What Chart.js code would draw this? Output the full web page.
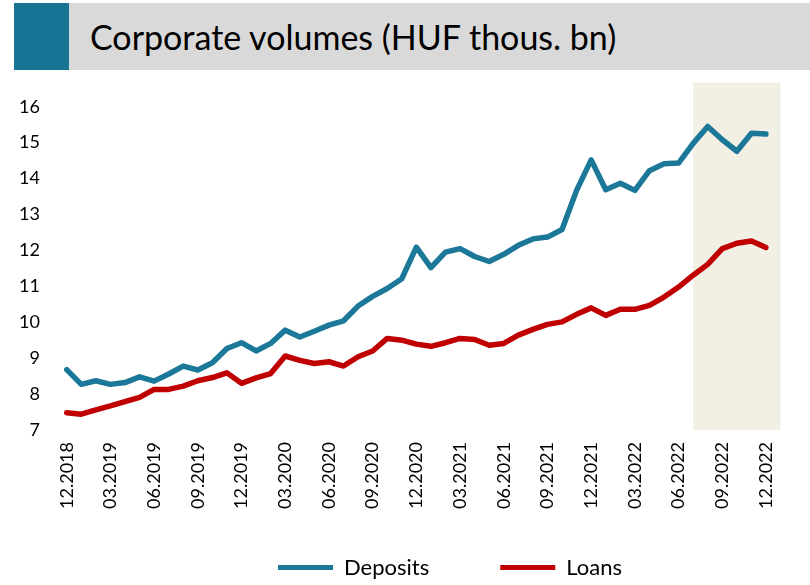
<!DOCTYPE html>
<html><head><meta charset="utf-8">
<script src="https://cdn.jsdelivr.net/npm/chart.js@4"></script>
<style>
html,body{margin:0;padding:0;background:#fff;}
#wrap{position:relative;width:810px;height:585px;overflow:hidden;}
#c{position:absolute;left:0;top:0;}
#bar{position:absolute;left:14px;top:3px;width:796px;height:67px;background:#D9D9D9;}
#sq{position:absolute;left:14px;top:3px;width:55px;height:67px;background:#187596;}
#title{position:absolute;left:90px;top:3px;height:67px;line-height:67px;font-family:Lato,sans-serif;font-size:34px;color:#000;white-space:nowrap;}
</style></head>
<body>
<div id="wrap">
<div id="bar"></div><div id="sq"></div>
<div id="title">Corporate volumes (HUF thous. bn)</div>
<canvas id="c" width="810" height="585"></canvas>
</div>
<script>
const categories = [
 '12.2018','01.2019','02.2019','03.2019','04.2019','05.2019','06.2019','07.2019','08.2019','09.2019','10.2019','11.2019',
 '12.2019','01.2020','02.2020','03.2020','04.2020','05.2020','06.2020','07.2020','08.2020','09.2020','10.2020','11.2020',
 '12.2020','01.2021','02.2021','03.2021','04.2021','05.2021','06.2021','07.2021','08.2021','09.2021','10.2021','11.2021',
 '12.2021','01.2022','02.2022','03.2022','04.2022','05.2022','06.2022','07.2022','08.2022','09.2022','10.2022','11.2022',
 '12.2022'
];
const tickLabels = ['12.2018','03.2019','06.2019','09.2019','12.2019','03.2020','06.2020','09.2020','12.2020',
 '03.2021','06.2021','09.2021','12.2021','03.2022','06.2022','09.2022','12.2022'];
const deposits = [8.68, 8.27, 8.37, 8.27, 8.32, 8.48, 8.36, 8.56, 8.78, 8.67, 8.87, 9.27,
 9.43, 9.20, 9.41, 9.78, 9.59, 9.75, 9.92, 10.04, 10.45, 10.72, 10.94, 11.21,
 12.09, 11.52, 11.95, 12.05, 11.83, 11.69, 11.89, 12.14, 12.32, 12.37, 12.58, 13.67,
 14.52, 13.69, 13.87, 13.67, 14.22, 14.41, 14.43, 14.98, 15.45, 15.08, 14.76, 15.26,
 15.24];
const loans = [7.48, 7.44, 7.56, 7.67, 7.79, 7.91, 8.13, 8.13, 8.22, 8.37, 8.46, 8.59,
 8.30, 8.45, 8.57, 9.06, 8.94, 8.85, 8.90, 8.78, 9.04, 9.20, 9.55, 9.50,
 9.39, 9.33, 9.43, 9.55, 9.52, 9.36, 9.41, 9.64, 9.80, 9.94, 10.01, 10.22,
 10.40, 10.19, 10.36, 10.36, 10.47, 10.70, 10.98, 11.31, 11.61, 12.05, 12.20, 12.26,
 12.08];
const yMin = 7, yMax = 16;
const shadeFrom = '07.2022';
const shadeTop = 16.67;

const BLUE = '#1B7898', RED = '#C00000', SHADE = '#F2EFE4';
const FONT = 'Lato, sans-serif';
const PAD_BOTTOM = -40;

const shadePlugin = {
  id: 'shade',
  beforeDatasetsDraw(chart) {
    const {ctx, chartArea, scales: {x, y}} = chart;
    const x1 = x.getPixelForValue(categories.indexOf(shadeFrom));
    const x2 = x.getPixelForValue(categories.length);
    const y1 = y.getPixelForValue(shadeTop);
    ctx.save();
    ctx.fillStyle = SHADE;
    ctx.fillRect(x1, y1, x2 - x1, chartArea.bottom - y1);
    ctx.restore();
  }
};
const legendPlace = {
  id: 'legendPlace',
  afterLayout(chart) {
    const lg = chart.legend;
    const dx = 450 - (lg.left + lg.right) / 2;
    lg.left += dx; lg.right += dx;
    const dy = 485.5 - lg.top;
    lg.top += dy; lg.bottom += dy;
  }
};

new Chart(document.getElementById('c'), {
  type: 'line',
  data: {
    labels: categories,
    datasets: [
      {label: 'Deposits', data: deposits, borderColor: BLUE, backgroundColor: BLUE},
      {label: 'Loans', data: loans, borderColor: RED, backgroundColor: RED}
    ]
  },
  options: {
    responsive: false,
    devicePixelRatio: 1,
    animation: false,
    events: [],
    layout: {padding: {left: 0, right: 44, top: 106.7, bottom: PAD_BOTTOM}},
    elements: {
      line: {borderWidth: 5.5, tension: 0, borderCapStyle: 'round', borderJoinStyle: 'round', fill: false},
      point: {radius: 0}
    },
    scales: {
      x: {
        grid: {display: false, drawTicks: false},
        border: {display: false},
        ticks: {
          autoSkip: false, maxRotation: 90, minRotation: 90, padding: 12,
          color: '#000', font: {family: FONT, size: 18},
          callback: (v, i) => tickLabels.includes(categories[i]) ? categories[i] : ''
        },
        afterFit(scale) { scale.height = 585 - PAD_BOTTOM - 430 - scale.chart.legend.height; }
      },
      y: {
        min: yMin, max: yMax,
        grid: {display: false, drawTicks: false},
        border: {display: false},
        ticks: {stepSize: 1, padding: 26.7, color: '#000', font: {family: FONT, size: 18}},
        afterFit(scale) { scale.width = 66.7; }
      }
    },
    plugins: {
      tooltip: {enabled: false},
      legend: {
        position: 'bottom',
        labels: {
          boxWidth: 55, boxHeight: 5, padding: 71, color: '#000',
          font: {family: FONT, size: 22},
          generateLabels: (chart) => Chart.defaults.plugins.legend.labels.generateLabels(chart)
            .map(l => Object.assign(l, {lineWidth: 0, fillStyle: l.strokeStyle}))
        }
      }
    }
  },
  plugins: [shadePlugin, legendPlace]
});
</script>
</body></html>
